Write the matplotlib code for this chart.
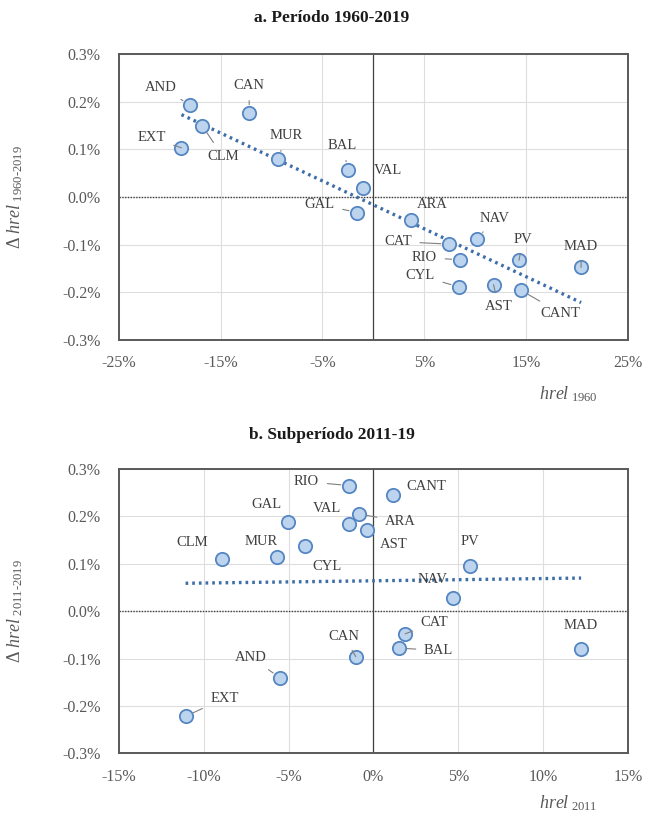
import numpy as np
import matplotlib
matplotlib.use("Agg")
import matplotlib.pyplot as plt

plt.rcParams['font.family'] = ['Liberation Serif', 'DejaVu Serif']
plt.rcParams['mathtext.fontset'] = 'custom'
plt.rcParams['mathtext.rm'] = 'Liberation Serif'
plt.rcParams['mathtext.it'] = 'Liberation Serif:italic'

# panel a: hrel 1960 (%) vs change 1960-2019 (%)
regions_a = ['AND', 'CLM', 'EXT', 'CAN', 'MUR', 'BAL', 'VAL', 'GAL', 'ARA', 'NAV',
             'CAT', 'RIO', 'PV', 'MAD', 'CYL', 'AST', 'CANT']
hrel_1960 = [-18.0, -16.8, -18.85, -12.2, -9.35, -2.45, -1.05, -1.6, 3.7, 10.2,
             7.45, 8.5, 14.3, 20.4, 8.4, 11.8, 14.5]
dhrel_a = [0.193, 0.149, 0.103, 0.176, 0.079, 0.057, 0.019, -0.033, -0.049, -0.088,
           -0.099, -0.132, -0.133, -0.148, -0.189, -0.184, -0.196]

# panel b: hrel 2011 (%) vs change 2011-2019 (%)
regions_b = ['RIO', 'CANT', 'ARA', 'VAL', 'AST', 'GAL', 'CYL', 'MUR', 'CLM', 'PV',
             'NAV', 'CAT', 'BAL', 'MAD', 'CAN', 'AND', 'EXT']
hrel_2011 = [-1.43, 1.13, -0.84, -1.43, -0.37, -5.06, -4.04, -5.7, -8.9, 5.68,
             4.71, 1.87, 1.48, 12.24, -1.04, -5.51, -11.07]
dhrel_b = [0.265, 0.244, 0.205, 0.184, 0.171, 0.188, 0.137, 0.115, 0.111, 0.096,
           0.028, -0.048, -0.078, -0.080, -0.096, -0.141, -0.222]

# label position (x, y) and whether a leader line is drawn
labels_a = {'AND': (-20.9, 0.230, True), 'CLM': (-14.8, 0.085, True), 'EXT': (-21.8, 0.124, True),
            'CAN': (-12.2, 0.233, True), 'MUR': (-8.6, 0.128, True), 'BAL': (-3.1, 0.107, True),
            'VAL': (1.4, 0.055, False), 'GAL': (-5.3, -0.015, True), 'ARA': (5.8, -0.015, False),
            'NAV': (11.9, -0.045, True), 'CAT': (2.4, -0.094, True), 'RIO': (5.0, -0.127, True),
            'PV': (14.7, -0.089, True), 'MAD': (20.4, -0.104, True), 'CYL': (4.6, -0.165, True),
            'AST': (12.3, -0.230, True), 'CANT': (18.4, -0.244, True)}
labels_b = {'RIO': (-3.94, 0.273, True), 'CANT': (3.1, 0.263, False), 'ARA': (1.6, 0.189, True),
            'VAL': (-2.76, 0.217, False), 'AST': (1.17, 0.141, False), 'GAL': (-6.3, 0.224, False),
            'CYL': (-2.76, 0.095, False), 'MUR': (-6.64, 0.146, False), 'CLM': (-10.65, 0.144, False),
            'PV': (5.67, 0.146, False), 'NAV': (3.48, 0.067, False), 'CAT': (3.6, -0.025, True),
            'BAL': (3.85, -0.083, True), 'MAD': (12.2, -0.030, False), 'CAN': (-1.74, -0.053, True),
            'AND': (-7.2, -0.097, True), 'EXT': (-8.78, -0.184, True)}

GREY = '#595959'
PT_FACE = '#bcd4ee'
PT_EDGE = '#5586c2'
TREND = '#3e6ea8'


def draw_panel(ax, names, xs, ys, labels, xticks, xlab_sub, ylab_sub):
    ax.set_xlim(xticks[0], xticks[-1])
    ax.set_ylim(-0.3, 0.3)
    ax.set_xticks(xticks)
    ax.set_xticklabels([f'{t:g}%' for t in xticks])
    yt = np.round(np.arange(-0.3, 0.31, 0.1), 1)
    ax.set_yticks(yt)
    ax.set_yticklabels([f'{t:.1f}%' for t in yt])
    ax.tick_params(axis='x', length=0, pad=11, labelsize=11.5, labelcolor=GREY)
    ax.tick_params(axis='y', length=0, pad=13, labelsize=11.5, labelcolor=GREY)
    ax.grid(True, color='#dedede', lw=0.8)
    ax.set_axisbelow(True)
    for s in ax.spines.values():
        s.set_color(GREY)
        s.set_linewidth(1.4)
    ax.axhline(0, color='#404040', lw=1.0, ls=(0, (1, 1)), zorder=1)
    ax.axvline(0, color='#404040', lw=0.9, zorder=1)

    xs = np.array(xs)
    ys = np.array(ys)
    b, a = np.polyfit(xs, ys, 1)
    xf = np.array([xs.min(), xs.max()])
    ax.plot(xf, a + b * xf, color=TREND, lw=2.4, ls=(0, (0.8, 1.2)), zorder=2)
    ax.scatter(xs, ys, s=92, facecolor=PT_FACE, edgecolor=PT_EDGE, linewidth=1.3, zorder=3)

    for n, x, y in zip(names, xs, ys):
        lx, ly, lead = labels[n]
        if lead:
            ax.annotate(n, xy=(x, y), xytext=(lx, ly), ha='center', va='center',
                        fontsize=10.5, color='#404040', zorder=4,
                        arrowprops=dict(arrowstyle='-', color='#7f7f7f', lw=0.8,
                                        shrinkA=4, shrinkB=6))
        else:
            ax.text(lx, ly, n, ha='center', va='center', fontsize=10.5, color='#404040', zorder=4)

    ax.text(0.941, xlab_sub[1], r'$\mathit{hrel}_{\ \mathrm{' + xlab_sub[0] + '}}$',
            transform=ax.transAxes, ha='right', va='center', fontsize=13, color=GREY)
    ax.set_ylabel(r'$\Delta\ \mathit{hrel}_{\ \text{' + ylab_sub + '}}$', fontsize=13, color=GREY)
    ax.yaxis.set_label_coords(-0.185, 0.5)


fig = plt.figure(figsize=(6.46, 8.17), dpi=100)
ax1 = fig.add_axes([0.184, 0.584, 0.788, 0.350])
ax2 = fig.add_axes([0.184, 0.078, 0.788, 0.348])

draw_panel(ax1, regions_a, hrel_1960, dhrel_a, labels_a, [-25, -15, -5, 5, 15, 25],
           ('1960', -0.19), '1960-2019')
draw_panel(ax2, regions_b, hrel_2011, dhrel_b, labels_b, [-15, -10, -5, 0, 5, 10, 15],
           ('2011', -0.175), '2011-2019')

fig.text(0.514, 0.978, 'a. Período 1960-2019', ha='center', va='center',
         fontsize=12.5, fontweight='bold', color='#1a1a1a')
fig.text(0.514, 0.468, 'b. Subperíodo 2011-19', ha='center', va='center',
         fontsize=12.5, fontweight='bold', color='#1a1a1a')

fig.savefig('out.png', dpi=100)
